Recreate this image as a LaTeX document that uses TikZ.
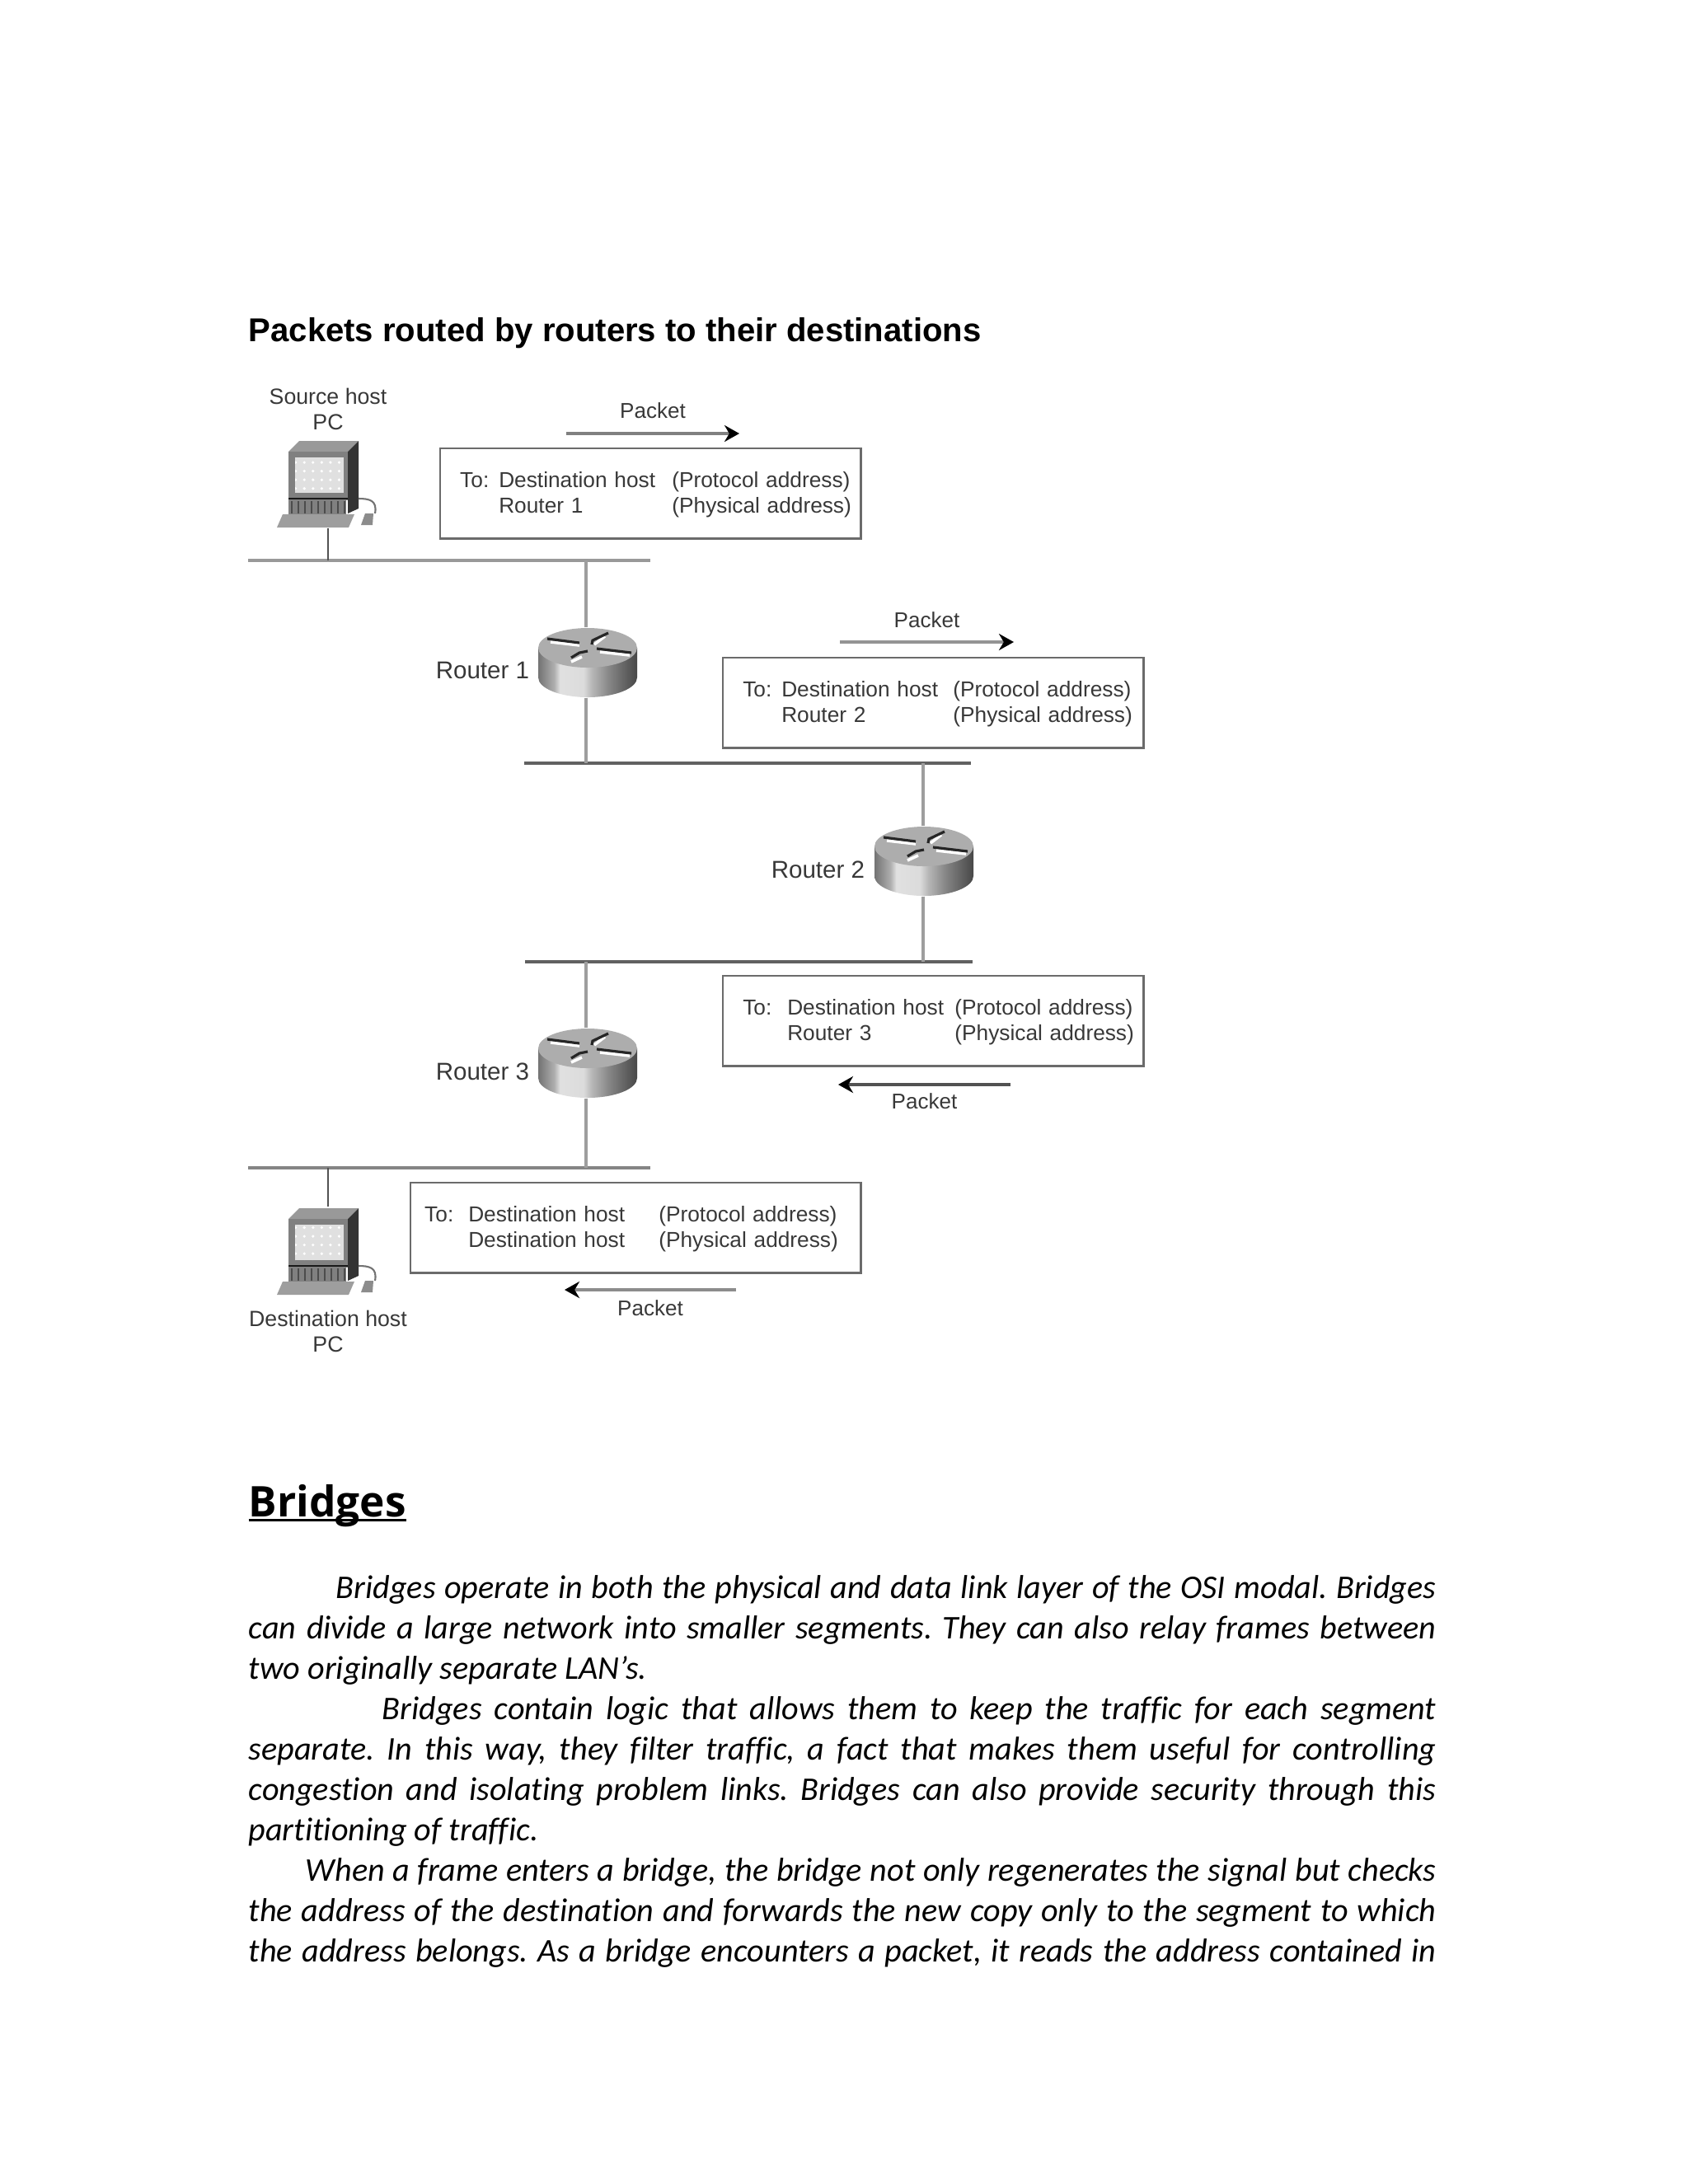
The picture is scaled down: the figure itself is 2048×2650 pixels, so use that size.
\documentclass[tikz,border=0pt]{standalone}
\usepackage{fontspec}
\usepackage{xcolor}
\usetikzlibrary{arrows.meta,positioning,patterns}
\setmainfont{Liberation Sans}
\newfontfamily\bodyfont[Ligatures=NoCommon]{Carlito}
\newfontfamily\headfont{Open Sans}

\pgfdeclarehorizontalshading{routerside}{100bp}{
  color(0bp)=(black!55); color(25bp)=(black!55); color(33bp)=(black!32);
  color(36bp)=(black!12); color(48bp)=(black!14); color(52bp)=(black!28);
  color(61bp)=(black!48); color(75bp)=(black!72); color(100bp)=(black!72)}

% one row pair of a packet's address box
\newcommand{\addrrows}[5]{%
  \raisebox{-0.02cm}[\height][\depth]{\begin{tabular}{@{\hspace*{#1}}p{#2}@{}p{#3}@{}l@{}}
    To: & Destination host & (Protocol address)\\
        & #5 & (Physical address)
  \end{tabular}}}
\newcommand{\headrule}[1]{\setbox0\hbox{#1}\rlap{\rule[-1.7pt]{\wd0}{0.95pt}}\box0}

\tikzset{
  routerdisk/.pic={
    \shade[shading=routerside] (-60,-18) -- (-60,18) arc[start angle=180, end angle=0, x radius=60, y radius=24] -- (60,-18) -- cycle;
    \fill[black!32] (0,-18) ellipse[x radius=60, y radius=24];
    \draw[white, line width=1pt] (-45,-25) -- (-10,-21);
    \draw[white, line width=1pt] (21,-32) -- (8,-22);
    \draw[white, line width=1pt] (15,-13) -- (51,-9);
    \draw[white, line width=1pt] (-7,-7) -- (-20,-1);
    \draw[black!85, line width=0.9pt] (-49,-29) -- (-10,-24);
    \draw[black!85, line width=0.9pt] (25,-36) -- (6,-27) -- (5,-22);
    \draw[black!85, line width=0.9pt] (11,-17) -- (53,-12);
    \draw[black!85, line width=0.9pt] (0,-14) -- (-10,-12) -- (-20,-6);
  },
  pchost/.pic={
    \fill[black!40] (-35,-52) -- (37,-52) -- (24,-39) -- (-48,-39) -- cycle;
    \fill[black!80] (24,-39) -- (37,-52) -- (37,30) -- (24,36) -- cycle;
    \fill[black!50] (-48,-39) rectangle (24,20);
    \fill[black!12] (-40,-32) rectangle (19,11);
    \fill[pattern=dots, pattern color=white] (-40,-32) rectangle (19,11);
    \draw[black!90, line width=0.8pt] (-48,18) -- (24,18);
    \fill[black!50] (-48,20) rectangle (22,37);
    \foreach \ventx in {-44,-36,...,20}
      \draw[black!70, line width=0.6pt] (\ventx,21) -- (\ventx,36);
    \fill[black!38] (-55,37) -- (32,37) -- (25,53) -- (-62,53) -- cycle;
    \fill[black!45] (40,50) -- (45,36) -- (55,36) -- (54,50) -- cycle;
    \draw[black!55, line width=0.6pt] (37,18) .. controls (50,18) and (60,20) .. (57,36);
  },
}

\begin{document}
\begin{tikzpicture}[
    x=0.01cm, y=-0.01cm,
    every node/.style={inner sep=0pt, text=black!78, font=\fontsize{7.6}{8.65}\selectfont},
    addrbox/.style={rectangle, draw=black!58, line width=0.7pt, anchor=north west, minimum height=1.09cm, inner xsep=0.05cm, text width=#1, align=left, font=\fontsize{7.47}{8.65}\selectfont},
    routerbox/.style={rectangle, minimum width=1.21cm, minimum height=0.84cm},
    routerlabel/.style={font=\fontsize{8.4}{10}\selectfont},
    pcbox/.style={rectangle, minimum width=1.2cm, minimum height=1.06cm},
    caption/.style={align=center},
    packetlabel/.style={font=\fontsize{7.4}{9}\selectfont},
    lan/.style={draw=black!#1, line width=1.1pt},
    drop/.style={draw=black!38, line width=1.15pt},
    hostdrop/.style={draw=black!68, line width=0.6pt},
    packetarrow/.style={draw=black!#1, line width=1pt, -{Stealth[black, length=0.18cm, width=0.2cm]}},
    bodypar/.style={anchor=north west, text width=14.4cm, align=justify, text=black, font=\frenchspacing\bodyfont\itshape\fontsize{11.42}{13.93}\selectfont}
]
\useasboundingbox (0,0) rectangle (2048,2650);

% Title
\node (title) [anchor=base west, text=black, font=\bfseries\fontsize{11.4}{13}\selectfont] at (301,414) {Packets routed by routers to their destinations};

% Hosts and routers
\pic at (398,587) {pchost};
\node (sourcepc) [pcbox] at (398,587) {};
\node (sourcelabel) [caption, above=0.11cm of sourcepc] {Source host\\PC};
\pic at (713,804) {routerdisk};
\node (routerone) [routerbox] at (711,804) {};
\node (routeronelabel) [routerlabel, left=0.07cm of routerone, yshift=-0.09cm] {Router 1};
\pic at (1121,1045) {routerdisk};
\node (routertwo) [routerbox] at (1120,1045) {};
\node (routertwolabel) [routerlabel, left=0.09cm of routertwo, yshift=-0.1cm] {Router 2};
\pic at (713,1290) {routerdisk};
\node (routerthree) [routerbox] at (711,1290) {};
\node (routerthreelabel) [routerlabel, left=0.07cm of routerthree, yshift=-0.1cm] {Router 3};
\pic at (398,1518) {pchost};
\node (destpc) [pcbox] at (398,1518) {};
\node (destlabel) [caption, below=0.18cm of destpc] {Destination host\\PC};

% LAN segments
\coordinate (lanoneL) at (301,680);
\coordinate (lanoneR) at (789,680);
\coordinate (lantwoL) at (636,926);
\coordinate (lantwoR) at (1178,926);
\coordinate (lanthreeL) at (637,1167);
\coordinate (lanthreeR) at (1180,1167);
\coordinate (lanfourL) at (301,1417);
\coordinate (lanfourR) at (789,1417);
\draw [lan=40] (lanoneL) -- (lanoneR);
\draw [lan=62] (lantwoL) -- (lantwoR);
\draw [lan=62] (lanthreeL) -- (lanthreeR);
\draw [lan=48] (lanfourL) -- (lanfourR);

% Drops onto the segments
\draw [hostdrop] (sourcepc.south) -- (sourcepc.south |- lanoneL);
\draw [drop] (routerone.north) -- (routerone.north |- lanoneL);
\draw [drop] (routerone.south) -- (routerone.south |- lantwoL);
\draw [drop] (routertwo.north) -- (routertwo.north |- lantwoL);
\draw [drop] (routertwo.south) -- (routertwo.south |- lanthreeL);
\draw [drop] (routerthree.north) -- (routerthree.north |- lanthreeL);
\draw [drop] (routerthree.south) -- (routerthree.south |- lanfourL);
\draw [hostdrop] (destpc.north) -- (destpc.north |- lanfourL);

% Address boxes
\node (boxone) [addrbox=5.0cm] at (533,543) {\addrrows{0.19cm}{0.47cm}{2.1cm}{}{Router 1}};
\node (boxtwo) [addrbox=5.0cm] at (876,797) {\addrrows{0.19cm}{0.47cm}{2.08cm}{}{Router 2}};
\node (boxthree) [addrbox=5.0cm] at (876,1183) {\addrrows{0.19cm}{0.54cm}{2.03cm}{}{Router 3}};
\node (boxfour) [addrbox=5.36cm] at (497,1434) {\addrrows{0.12cm}{0.53cm}{2.31cm}{}{Destination host}};

% Packet arrows
\coordinate (pktoneA) at (687,526);
\coordinate (pktoneB) at (897,526);
\coordinate (pkttwoA) at (1019,779);
\coordinate (pkttwoB) at (1230,779);
\coordinate (pktthreeA) at (1226,1316);
\coordinate (pktthreeB) at (1017,1316);
\coordinate (pktfourA) at (893,1565);
\coordinate (pktfourB) at (685,1565);
\draw [packetarrow=50] (pktoneA) -- node[packetlabel, above=0.16cm] (pktonelabel) {Packet} (pktoneB);
\draw [packetarrow=42] (pkttwoA) -- node[packetlabel, above=0.15cm] (pkttwolabel) {Packet} (pkttwoB);
\draw [packetarrow=68] (pktthreeA) -- node[packetlabel, below=0.09cm] (pktthreelabel) {Packet} (pktthreeB);
\draw [packetarrow=45] (pktfourA) -- node[packetlabel, below=0.11cm] (pktfourlabel) {Packet} (pktfourB);

% Text under the figure
\node (bridgeshead) [anchor=base west, text=black, font=\headfont\bfseries\fontsize{14.6}{18}\selectfont] at (301,1840) {\headrule{Bridges}};
\node (bridgestext) [bodypar] at (301,1911) {%
\hspace*{1.06cm}Bridges operate in both the physical and data link layer of the OSI modal. Bridges\linebreak
can divide a large network into smaller segments. They can also relay frames between\linebreak
two originally separate LAN’s.\par
\hspace*{1.62cm}Bridges contain logic that allows them to keep the traffic for each segment\linebreak
separate. In this way, they filter traffic, a fact that makes them useful for controlling\linebreak
congestion and isolating problem links. Bridges can also provide security through this\linebreak
partitioning of traffic.\par
\hspace*{0.69cm}When a frame enters a bridge, the bridge not only regenerates the signal but checks\linebreak
the address of the destination and forwards the new copy only to the segment to which\linebreak
the address belongs. As a bridge encounters a packet, it reads the address contained in\parfillskip=0pt\par};

\end{tikzpicture}
\end{document}
